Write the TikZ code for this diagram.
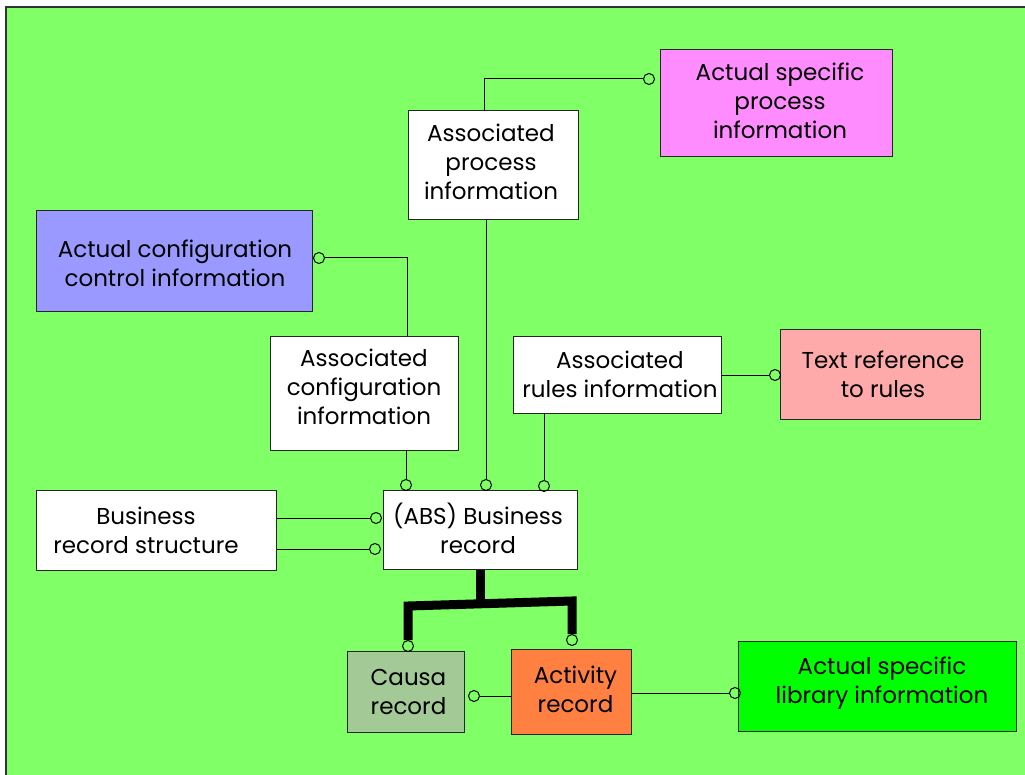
\documentclass[tikz,border=0pt]{standalone}
\usepackage{fontspec}
\setmainfont{Poppins}
\definecolor{bggreen}{RGB}{128,255,102}
\definecolor{procpink}{RGB}{255,140,255}
\definecolor{cfgblue}{RGB}{153,153,255}
\definecolor{rulepink}{RGB}{255,170,170}
\definecolor{causagreen}{RGB}{163,201,150}
\definecolor{actorange}{RGB}{255,128,64}
\definecolor{libgreen}{RGB}{0,255,0}
\begin{document}
\begin{tikzpicture}[x=1pt,y=-1pt,
  box/.style={draw=black!85, line width=1pt, inner sep=0pt},
  lbl/.style={align=center, inner sep=0pt, font=\fontsize{23}{29}\selectfont},
  port/.style={circle, draw=black, line width=1pt, inner sep=0pt, minimum size=11pt},
  link/.style={line width=1pt, draw=black},
  bar/.style={line width=9pt, draw=black, line join=miter}]
\useasboundingbox (0,0) rectangle (1025,775);
% sheet
\fill[bggreen] (6,7) rectangle (1025,775);
\draw[line width=2pt, black!80] (6,775) -- (6,7) -- (1025,7);

% boxes, each with its caption placed as a centred label
\node[box, fill=procpink, minimum width=232pt, minimum height=107pt,
  label={[lbl, xshift=4pt, yshift=3pt]center:{Actual specific\\process\\information}}] (asp) at (776,103.5) {};
\node[box, fill=white, minimum width=170pt, minimum height=109pt,
  label={[lbl, xshift=-2pt, yshift=3.5pt]center:{Associated\\process\\information}}] (api) at (493,165.5) {};
\node[box, fill=cfgblue, minimum width=276pt, minimum height=101pt,
  label={[lbl, xshift=1pt, yshift=-1.5pt]center:{Actual configuration\\control information}}] (acc) at (174,261.5) {};
\node[box, fill=white, minimum width=188pt, minimum height=113pt,
  label={[lbl, yshift=7pt]center:{Associated\\configuration\\information}}] (acf) at (364,393.5) {};
\node[box, fill=white, minimum width=208pt, minimum height=76pt,
  label={[lbl, xshift=3pt, yshift=1pt]center:{Associated\\rules information}}] (ari) at (617,375) {};
\node[box, fill=rulepink, minimum width=200pt, minimum height=89pt,
  label={[lbl, xshift=3pt]center:{Text reference\\to rules}}] (trr) at (880,374.5) {};
\node[box, fill=white, minimum width=240pt, minimum height=80pt,
  label={[lbl, xshift=-10pt]center:{Business\\record structure}}] (brs) at (156,530) {};
\node[box, fill=white, minimum width=194pt, minimum height=79pt,
  label={[lbl, xshift=-2pt, yshift=2pt]center:{(ABS) Business\\record}}] (abs) at (480,530) {};
\node[box, fill=causagreen, minimum width=117pt, minimum height=81pt,
  label={[lbl, xshift=3pt]center:{Causa\\record}}] (cau) at (405.5,691.5) {};
\node[box, fill=actorange, minimum width=120pt, minimum height=85pt,
  label={[lbl, xshift=4pt, yshift=2.5pt]center:{Activity\\record}}] (act) at (571.5,691.5) {};
\node[box, fill=libgreen, minimum width=278pt, minimum height=90pt,
  label={[lbl, xshift=5pt, yshift=3pt]center:{Actual specific\\library information}}] (lib) at (877,686) {};

% connection ports
\node[port] (p1) at (649,79) {};
\node[port] (p2) at (486,485) {};
\node[port] (p3) at (319,258) {};
\node[port] (p4) at (406,485) {};
\node[port] (p5) at (544,486) {};
\node[port] (p6) at (775,375) {};
\node[port] (p7) at (376,518) {};
\node[port] (p8) at (375,549) {};
\node[port] (p9) at (408,646) {};
\node[port] (p10) at (572,640) {};
\node[port] (p11) at (474,696) {};
\node[port] (p12) at (735,693) {};

% thin connectors
\draw[link] ([xshift=-9pt]api.north) |- (p1.west);
\draw[link] (p2.north |- api.south) -- (p2.north);
\draw[link] (p3.east) -| ([xshift=43pt]acf.north);
\draw[link] (p4.north |- acf.south) -- (p4.north);
\draw[link] (p5.north |- ari.south) -- (p5.north);
\draw[link] (ari.east |- p6) -- (p6.west);
\draw[link] (brs.east |- p7) -- (p7.west);
\draw[link] (brs.east |- p8) -- (p8.west);
\draw[link] (p11.east) -- (act.west |- p11);
\draw[link] (act.east |- p12) -- (p12.west);

% heavy subtype connector
\coordinate (jl) at (408,606);
\coordinate (jr) at (572,601);
\coordinate (jm) at (480,603.8);
\draw[bar] (abs.south) -- (jm);
\draw[bar] (p9.north) -- (jl) -- (jr) -- (p10.north);
\end{tikzpicture}
\end{document}
